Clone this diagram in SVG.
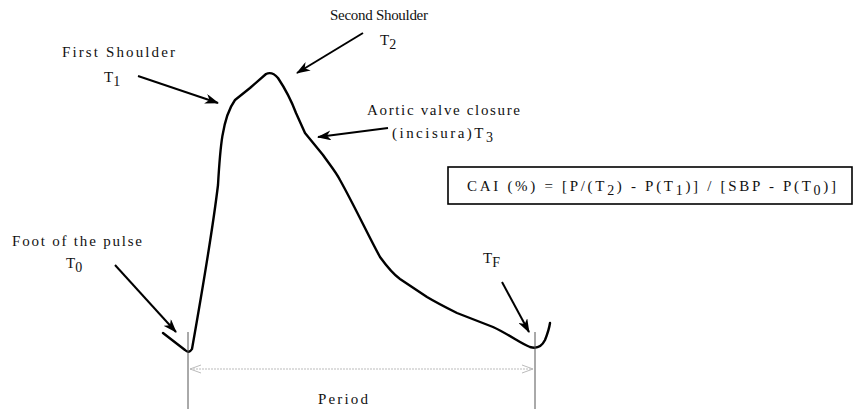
<svg xmlns="http://www.w3.org/2000/svg" width="858" height="411" viewBox="0 0 858 411">
<style>
text{font-family:"Liberation Serif","Times New Roman",serif;font-size:15px;fill:#111}
.sub{font-size:14px}
.curve{fill:none;stroke:#000;stroke-width:2.4;stroke-linejoin:round;stroke-linecap:round}
.arr{fill:none;stroke:#000;stroke-width:2;marker-end:url(#ah)}
.vl{stroke:#555;stroke-width:1}
.per{stroke:#bbb;stroke-width:1;stroke-dasharray:2 1;marker-start:url(#oh);marker-end:url(#oh)}
</style>
<defs>
<marker id="ah" viewBox="0 0 14 10" refX="13" refY="5" markerWidth="14" markerHeight="10" markerUnits="userSpaceOnUse" orient="auto">
<path d="M0,0 L14,5 L0,10 L4,5 Z" fill="#000"/>
</marker>
<marker id="oh" viewBox="0 0 12 10" refX="11" refY="5" markerWidth="12" markerHeight="10" markerUnits="userSpaceOnUse" orient="auto-start-reverse">
<path d="M0,1 L11,5 L0,9" fill="none" stroke="#bbb" stroke-width="1"/>
</marker>
</defs>
<g id="waveform">
<path class="curve" d="M163,333 L185,350 Q189,354 192,349 C198,315 212,235 218,185 C220,150 222,118 235,100 L250,88 L266,74 Q272,71 278,78 C284,87 290,97 296,113 L305,133 L323,155 C330,165 336,172 340,180 C355,207 368,235 380,257 C388,268 393,274 400,279 L427,297 C437,303 447,308 457,313 L493,327 C510,335 520,343 530,347 Q540,350 545,340 Q549,330 550,323"/>
</g>
<g id="connectors">
<line class="vl" x1="188" y1="332" x2="188" y2="409"/>
<line class="vl" x1="535" y1="332" x2="535" y2="409"/>
<line class="per" x1="190" y1="369" x2="533" y2="369"/>
<line class="arr" x1="138" y1="76" x2="218" y2="103"/>
<line class="arr" x1="363" y1="33" x2="297" y2="73"/>
<line class="arr" x1="388" y1="128" x2="318" y2="137"/>
<line class="arr" x1="115" y1="265" x2="176" y2="332"/>
<line class="arr" x1="502" y1="282" x2="529" y2="332"/>
</g>
<g id="first-shoulder">
<text x="62" y="57" textLength="113" lengthAdjust="spacing">First  Shoulder</text>
<text x="104" y="82">T<tspan class="sub" dy="4">1</tspan></text>
</g>
<g id="second-shoulder">
<text x="330" y="20" textLength="98" lengthAdjust="spacing">Second Shoulder</text>
<text x="380" y="45">T<tspan class="sub" dy="4">2</tspan></text>
</g>
<g id="aortic-closure">
<text x="367" y="115" textLength="153" lengthAdjust="spacing">Aortic valve closure</text>
<text x="392" y="138" textLength="101" lengthAdjust="spacing">(incisura)T<tspan class="sub" dy="4">3</tspan></text>
</g>
<g id="foot">
<text x="12" y="246" textLength="130" lengthAdjust="spacing">Foot of the pulse</text>
<text x="66" y="268">T<tspan class="sub" dy="4">0</tspan></text>
</g>
<g id="tf">
<text x="483" y="263">T<tspan class="sub" dy="4">F</tspan></text>
</g>
<g id="period">
<text x="318" y="404" textLength="50" lengthAdjust="spacing">Period</text>
</g>
<g id="formula">
<rect x="448" y="167" width="404" height="37" fill="none" stroke="#000" stroke-width="1.6"/>
<text x="467" y="191" textLength="369" lengthAdjust="spacing">CAI (%)  =  [P/(T<tspan class="sub" dy="4">2</tspan><tspan dy="-4">)  -  P(T</tspan><tspan class="sub" dy="4">1</tspan><tspan dy="-4">)]  /  [SBP  -  P(T</tspan><tspan class="sub" dy="4">0</tspan><tspan dy="-4">)]</tspan></text>
</g>
</svg>
